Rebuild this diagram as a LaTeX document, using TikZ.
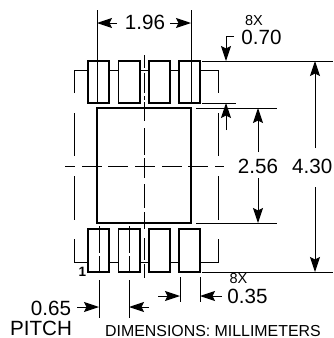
\documentclass[tikz,border=0pt]{standalone}
\usepackage{fontspec}
\setmainfont{Liberation Sans}
\usetikzlibrary{arrows.meta}
\tikzset{
  x=1pt,y=-1pt,
  outline/.style={line width=1.5pt,black},
  thin line/.style={line width=1pt,black},
  dim/.style={line width=1pt,black,-{Stealth[length=15pt,width=10pt,inset=2.5pt]}},
  big/.style={inner sep=0pt,font=\fontsize{20.6pt}{20.6pt}\selectfont},
  small/.style={inner sep=0pt,font=\fontsize{14.5pt}{14.5pt}\selectfont},
  note/.style={inner sep=0pt,font=\fontsize{15.9pt}{15.9pt}\selectfont},
}
\begin{document}
\begin{tikzpicture}
\useasboundingbox (0,0) rectangle (333,338);
% body and pads
\draw[outline] (97,108) rectangle (191,223);
\foreach \a/\b in {88/109,118.5/140,149/170,179/200}{
  \draw[outline] (\a,61) rectangle (\b,103);
  \draw[outline] (\a,229) rectangle (\b,272);
}
% envelope (dashed outline)
\begin{scope}[thin line]
\draw (74.5,93) -- (74.5,70) -- (88,70);
\draw (109,70) -- (118.5,70) (140,70) -- (149,70) (170,70) -- (179,70);
\draw (200,70) -- (218,70) -- (218,92.5);
\draw (74.5,113) -- (74.5,156) (74.5,176) -- (74.5,220);
\draw (218,113) -- (218,156) (218,176) -- (218,220);
\draw (74.5,239) -- (74.5,262) -- (88,262);
\draw (109,262) -- (118.5,262) (140,262) -- (149,262) (170,262) -- (179,262);
\draw (200,262) -- (218,262) -- (218,239);
% centre lines
\foreach \a/\b in {65/75,82/102,108/128,135/155,162/182,188/208,215/224}
  \draw (\a,166) -- (\b,166);
\foreach \a/\b in {55/68,73/93,96/100,102/121,128/155,158/178,184/208,212/229,238/260,264/278}
  \draw (144,\a) -- (144,\b);
% extension lines
\draw (97,10) -- (97,103) (191,10) -- (191,103);
\draw (99,226) -- (99,253) (99,256) -- (99,273) (99,280) -- (99,318);
\draw (129,226) -- (129,253) (129,256) -- (129,273) (129,280) -- (129,318);
\draw (180,277) -- (180,302) (200,277) -- (200,302);
\draw (202,61) -- (333,61) (202,103) -- (236,103);
\draw (196,108) -- (277,108) (196,223) -- (277,223);
\draw (202,272) -- (333,272);
\end{scope}
% texts
\node[big] (d196) at (145,22.5) {1.96};
\node[big] (d070) at (261.5,37.5) {0.70};
\node[small] (x8a) at (254,20.5) {8X};
\node[big] (d256) at (258,166) {2.56};
\node[big,anchor=east] (d430) at (332.5,166) {4.30};
\node[big] (d035) at (247.5,296.5) {0.35};
\node[small] (x8b) at (238.5,279) {8X};
\node[big] (d065) at (51,308) {0.65};
\node[big,anchor=base] (pitch) at (41,335.5) {PITCH};
\node[note,anchor=base west] (dims) at (105,336) {DIMENSIONS: MILLIMETERS};
\node[inner sep=0pt,font=\bfseries\fontsize{13.5pt}{13.5pt}\selectfont] (pin) at (82.5,271.5) {1};
% dimension arrows
\draw[dim] (117,23) -- (97,23);
\draw[dim] (170,23) -- (191,23);
\draw[dim] (234,36) -- (226,36) -- (226,61);
\draw[dim] (226,130) -- (226,103);
\draw[dim] (258,152) -- (258,108);
\draw[dim] (258,178) -- (258,223);
\draw[dim] (315,148) -- (315,61);
\draw[dim] (315,187) -- (315,272);
\draw[dim] (77,307) -- (99,307);
\draw[dim] (149,307) -- (129,307);
\draw[dim] (158,296) -- (180,296);
\draw[dim] (222,296) -- (200,296);
\end{tikzpicture}
\end{document}
